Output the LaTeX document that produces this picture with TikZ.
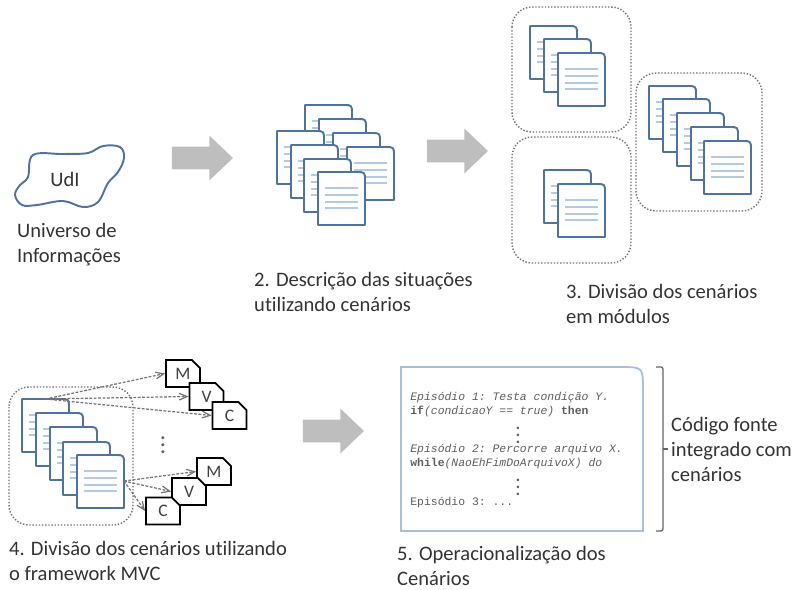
\documentclass[tikz,border=0pt]{standalone}
\usepackage{xcolor}
\usepackage{fontspec}
\setmainfont[Ligatures=NoCommon]{Carlito}
\setmonofont{Liberation Mono}
\usepackage{tikz}
\usetikzlibrary{shapes.arrows, shapes.misc, arrows}

\definecolor{pageblue}{HTML}{4F739F}
\definecolor{rowblue}{HTML}{B4CAE4}
\definecolor{panelblue}{HTML}{A9BFD8}
\definecolor{arrowgray}{HTML}{BEBEBE}
\definecolor{codegray}{HTML}{5E5E5E}

\begin{document}
\begin{tikzpicture}[
x=0.02cm, y=-0.02cm,
step label/.style = {anchor=west, align=left, text=black!80, font=\fontsize{11.7}{14.2}\selectfont},
code line/.style = {anchor=base west, inner sep=0pt, text=codegray, font=\fontsize{6.5}{8}\ttfamily},
code dots/.style = {inner sep=0pt, text=codegray, font=\fontsize{12}{12}\selectfont},
gray arrow/.style = {single arrow, fill=arrowgray, inner xsep=0pt, inner ysep=0.22cm, minimum width=0.88cm, minimum height=1.22cm, single arrow head extend=0.22cm, single arrow tip angle=87},
module box/.style = {draw=black!55, densely dotted, line width=0.8pt, rounded corners=0.4cm},
mvc card/.style = {chamfered rectangle, chamfered rectangle corners=north east, chamfered rectangle sep=0.08cm, draw=black, fill=white, line width=1pt, inner sep=0pt, minimum width=0.68cm, minimum height=0.54cm, text=black!75, font=\fontsize{10}{12}\selectfont},
mvc link/.style = {->, >=angle 45, draw=black!55, dash pattern=on 1.6pt off 0.9pt, line width=0.7pt},
doc/.pic = {
\draw[draw=pageblue, fill=white, line width=1.1pt, line join=round] (0,0) -- (38,0) .. controls (47,0) .. (47,9) -- (47,53) -- (0,53) -- cycle;
\draw[draw=rowblue, line width=0.7pt] (7,16) -- (40,16) (7,23) -- (40,23) (7,30) -- (40,30) (7,36) -- (40,36);
\coordinate (-n) at (23.5,0);
\coordinate (-e) at (47,26);
}
]

\useasboundingbox (0,0) rectangle (794,589);

\draw[draw=pageblue, line width=1.1pt] plot[smooth cycle, tension=0.6] coordinates {(33,155) (63,154) (88,153) (103,146) (120,147) (124,158) (118,172) (108,183) (98,202) (83,207) (63,201) (37,205) (22,205) (15,195) (20,185) (28,177)};
\node (udi) at (65,179) [text=black!80, font=\fontsize{11.7}{14.2}\selectfont] {UdI};
\node (udi label) at (11,245) [step label] {Universo de\\Informações};

\node (arrow1) at (196.5,158) [gray arrow] {};
\node (arrow2) at (451.5,151) [gray arrow] {};
\node (arrow3) at (327.5,431) [gray arrow] {};

\pic (a1) at (305,105) {doc};
\pic (a2) at (319,119) {doc};
\pic (a3) at (333,133) {doc};
\pic (a4) at (347,147) {doc};
\pic (b1) at (277,131) {doc};
\pic (b2) at (291,145) {doc};
\pic (b3) at (304,159) {doc};
\pic (b4) at (318,172) {doc};
\node (sit label) at (248,292) [step label] {2. Descrição das situações\\utilizando cenários};

\draw[module box] (512,7) rectangle (631,132);
\pic (c1) at (530,26) {doc};
\pic (c2) at (544,39) {doc};
\pic (c3) at (558,53) {doc};

\draw[module box] (512,137) rectangle (631,263);
\pic (d1) at (544,170) {doc};
\pic (d2) at (558,184) {doc};

\draw[module box] (636,73) rectangle (762,211);
\pic (e1) at (649,86) {doc};
\pic (e2) at (663,99) {doc};
\pic (e3) at (677,113) {doc};
\pic (e4) at (691,127) {doc};
\pic (e5) at (704,141) {doc};
\node (mod label) at (560,304) [step label] {3. Divisão dos cenários\\em módulos};

\draw[module box] (9,387) rectangle (133,525);
\pic (f1) at (22,399) {doc};
\pic (f2) at (36,413) {doc};
\pic (f3) at (50,427) {doc};
\pic (f4) at (63,442) {doc};
\pic (f5) at (77,455) {doc};

\node (m1) at (183,373.5) [mvc card] {M};
\node (v1) at (206.5,396.5) [mvc card] {V};
\node (c1card) at (229.5,415.5) [mvc card] {C};
\node (m2) at (214,471.5) [mvc card] {M};
\node (v2) at (189,491.5) [mvc card] {V};
\node (c2card) at (163,511) [mvc card] {C};
\node (mvc dots) at (163,440) [code dots, font=\fontsize{14}{14}\selectfont] {$\vdots$};

\draw[mvc link] (f1-n) -- (m1.west);
\draw[mvc link] (f1-n) -- (v1.west);
\draw[mvc link] (f1-n) -- (c1card.west);

\draw[mvc link] (f5-e) -- (m2.west);
\draw[mvc link] (f5-e) -- (v2.west);
\draw[mvc link] (f5-e) -- (c2card.west);

\node (mvc label) at (3,561) [step label] {4. Divisão dos cenários utilizando\\o framework MVC};

\draw[draw=panelblue, line width=1pt] (401,367) -- (620,367) .. controls (643,367) .. (643,390) -- (643,531) -- (401,531) -- cycle;

\node (ep1) at (410,400) [code line] {\itshape Episódio 1: Testa condição Y.};
\node (if1) at (410,414) [code line] {\textbf{if}\itshape (condicaoY == true) \upshape\textbf{then}};
\node (dots1) at (518,430) [code dots] {$\vdots$};
\node (ep2) at (410,452) [code line] {\itshape Episódio 2: Percorre arquivo X.};
\node (wh1) at (410,466) [code line] {\textbf{while}\itshape (NaoEhFimDoArquivoX) do};
\node (dots2) at (518,482) [code dots] {$\vdots$};
\node (ep3) at (410,505) [code line] {Episódio 3: ...};

\draw[draw=black!60, line width=0.7pt, rounded corners=0.04cm] (656,367) -- (663,367) -- (663,531) -- (656,531);
\draw[draw=black!60, line width=0.7pt] (663,449) -- (668,449);

\node (src label) at (665,449) [step label] {Código fonte\\integrado com\\cenários};
\node (op label) at (391,566) [step label] {5. Operacionalização dos\\Cenários};
\end{tikzpicture}
\end{document}
